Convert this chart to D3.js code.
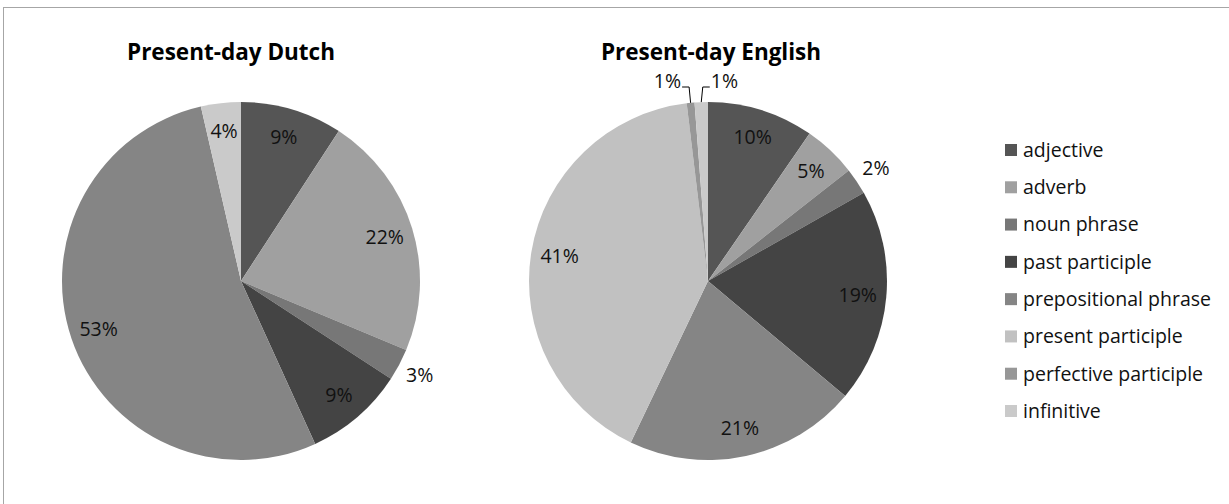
<!DOCTYPE html>
<html><head><meta charset="utf-8">
<script src="https://cdn.jsdelivr.net/npm/d3@7"></script>
<style>html,body{margin:0;padding:0;background:#fff;}svg{display:block;}</style>
</head><body>
<svg id="chart" width="1229" height="504"></svg>
<script>
const categories = ["adjective","adverb","noun phrase","past participle","prepositional phrase","present participle","perfective participle","infinitive"];
const colors = ["#555555","#a0a0a0","#777777","#444444","#858585","#c1c1c1","#979797","#cacaca"];
const dutchValues = [9.2, 22.1, 2.9, 9.0, 53.2, 0, 0, 3.6];
const englishValues = [9.6, 4.8, 2.4, 19.3, 21.0, 41.0, 0.7, 1.2];
const titles = ["Present-day Dutch", "Present-day English"];

const W = 1229, H = 504;
const svg = d3.select("#chart");
const FONT = "'Open Sans', Lato, sans-serif";
const LFS = 19.5;

// frame
svg.append("rect").attr("x",3.5).attr("y",7.5).attr("width",W+10).attr("height",H+10)
  .attr("fill","none").attr("stroke","#a6a6a6").attr("stroke-width",1);

const R = 179;
const pies = [
  {cx: 241, cy: 281, values: dutchValues, title: titles[0], titleX: 231},
  {cx: 708, cy: 281, values: englishValues, title: titles[1], titleX: 711}
];

const pie = d3.pie().sort(null).value(d => d.v);
const arc = d3.arc().innerRadius(0).outerRadius(R);
const fmt = v => Math.round(v) + "%";

pies.forEach(p => {
  const data = categories.map((c,i) => ({c, v: p.values[i], i}));
  const g = svg.append("g").attr("transform", `translate(${p.cx},${p.cy})`);
  const arcs = pie(data).filter(a => a.data.v > 0);
  g.selectAll("path").data(arcs).join("path")
    .attr("d", arc).attr("fill", d => colors[d.data.i]);

  svg.append("text").attr("x", p.titleX).attr("y", 60).attr("text-anchor","middle")
    .attr("font-family", FONT).attr("font-weight","bold").attr("font-size", 22.5)
    .attr("fill","#000").text(p.title);

  const tiny = arcs.filter(a => a.data.v < 1.5);
  arcs.forEach(a => {
    const mid = (a.startAngle + a.endAngle)/2;
    const span = a.endAngle - a.startAngle;
    let x, y;
    if (a.data.v < 1.5) {
      const idx = tiny.indexOf(a);
      const dir = idx === 0 ? -1 : 1;
      const x0 = Math.sin(mid)*R, y0 = -Math.cos(mid)*R;
      const yl = -R - 15;
      const x1 = x0 + dir*1.5;
      const x2 = x1 + dir*7;
      g.append("path").attr("d", `M${x0},${y0}L${x1},${yl}L${x2},${yl}`)
        .attr("fill","none").attr("stroke","#000").attr("stroke-width",1);
      g.append("text").attr("x", x2 + dir*1).attr("y", yl + 1)
        .attr("text-anchor", dir < 0 ? "end" : "start")
        .attr("font-family", FONT).attr("font-size", LFS).attr("fill","#111")
        .text(fmt(a.data.v));
      return;
    }
    const rr = span < 0.2 ? R*1.13 : R*0.84;
    x = Math.sin(mid)*rr; y = -Math.cos(mid)*rr;
    g.append("text").attr("x", x).attr("y", y).attr("dy","0.35em")
      .attr("text-anchor","middle")
      .attr("font-family", FONT).attr("font-size", LFS).attr("fill","#111")
      .text(fmt(a.data.v));
  });
});

// legend
const legend = svg.append("g");
const ly = d3.scalePoint().domain(categories).range([150, 411]);
categories.forEach((c,i) => {
  legend.append("rect").attr("x",1005).attr("y", ly(c)-6).attr("width",12).attr("height",12)
    .attr("fill", colors[i]);
  legend.append("text").attr("x",1023).attr("y", ly(c)).attr("dy","0.35em")
    .attr("font-family", FONT).attr("font-size", LFS).attr("fill","#111").text(c);
});
</script>
</body></html>
